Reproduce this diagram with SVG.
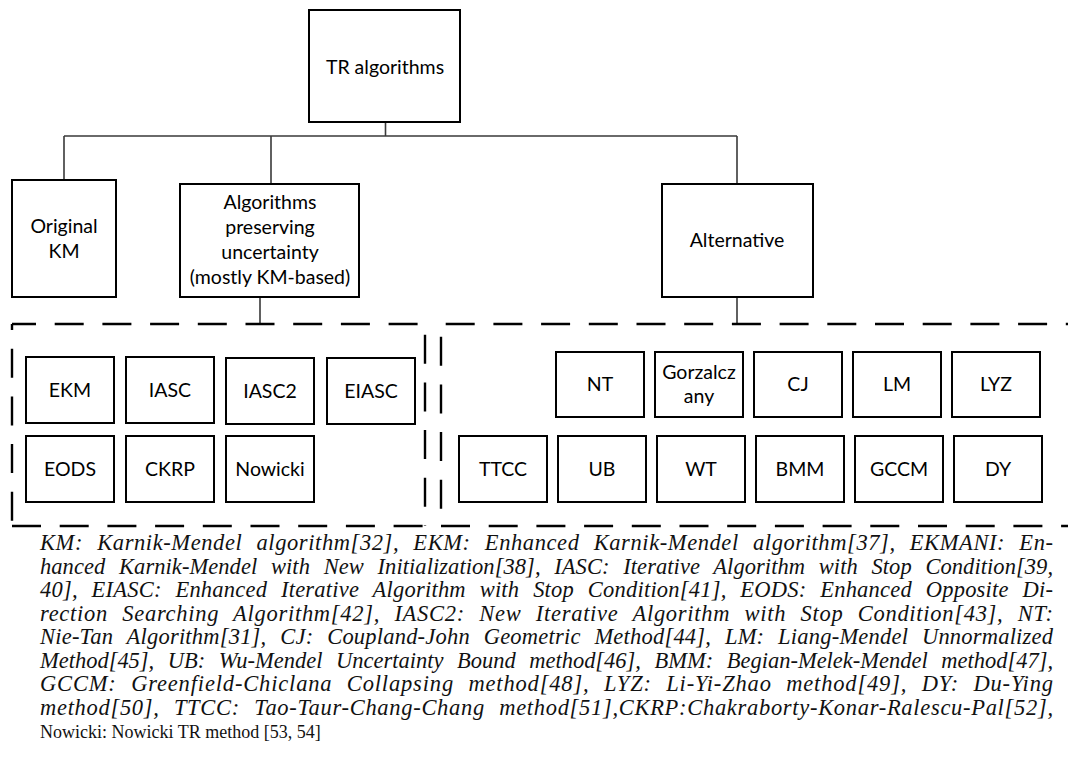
<svg xmlns="http://www.w3.org/2000/svg" width="1068" height="759" viewBox="0 0 1068 759">
<style>
.box{fill:#fff;stroke:#000;stroke-width:2}
.lbl{font-family:Lato,"Open Sans",sans-serif;font-size:19.5px;fill:#000;text-anchor:middle}
.con{fill:none;stroke:#3a3a3a;stroke-width:1.6}
.dash{fill:none;stroke:#000;stroke-width:2.4;stroke-dasharray:29 18.7}
.cap{font-family:"Liberation Serif",serif;font-style:italic;font-size:22.5px;word-spacing:8px;fill:#111}
.cap2{font-family:"Liberation Serif",serif;font-size:18px;fill:#111}
</style>
<rect width="1068" height="759" fill="#fff"/>
<g id="connectors">
<path class="con" d="M385.5,122V136M64,136H737M64,136V180M271,136V184M737,136V184M260,297V324M737,297V324"/>
</g>
<g id="groups">
<path class="dash" d="M12,324H425" stroke-dashoffset="5"/>
<path class="dash" d="M12,324V526" stroke-dashoffset="23"/>
<path class="dash" d="M12,526H425"/>
<path class="dash" d="M425,324V526" stroke-dashoffset="37"/>
<path class="dash" d="M441,324H1080" stroke-dashoffset="43"/>
<path class="dash" d="M441,324V526" stroke-dashoffset="35"/>
<path class="dash" d="M441,526H1080"/>
</g>
<g id="tr"><rect class="box" x="309" y="10" width="151" height="112"/><text class="lbl" x="385" y="74">TR algorithms</text></g>
<g id="original"><rect class="box" x="12" y="180" width="104" height="117"/><text class="lbl" x="64" y="233">Original</text><text class="lbl" x="64" y="258">KM</text></g>
<g id="preserving"><rect class="box" x="180" y="184" width="179" height="113"/><text class="lbl" x="270" y="209">Algorithms</text><text class="lbl" x="270" y="234">preserving</text><text class="lbl" x="270" y="259">uncertainty</text><text class="lbl" x="270" y="284">(mostly KM-based)</text></g>
<g id="alternative"><rect class="box" x="662" y="184" width="151" height="113"/><text class="lbl" x="737" y="247">Alternative</text></g>
<g id="ekm"><rect class="box" x="26" y="357" width="88" height="66"/><text class="lbl" x="70" y="397">EKM</text></g>
<g id="iasc"><rect class="box" x="126" y="357" width="88" height="66"/><text class="lbl" x="170" y="397">IASC</text></g>
<g id="iasc2"><rect class="box" x="226" y="358" width="88" height="66"/><text class="lbl" x="270" y="398">IASC2</text></g>
<g id="eiasc"><rect class="box" x="327" y="358" width="88" height="66"/><text class="lbl" x="371" y="398">EIASC</text></g>
<g id="eods"><rect class="box" x="26" y="436" width="88" height="66"/><text class="lbl" x="70" y="476">EODS</text></g>
<g id="ckrp"><rect class="box" x="126" y="436" width="88" height="66"/><text class="lbl" x="170" y="476">CKRP</text></g>
<g id="nowicki"><rect class="box" x="226" y="436" width="88" height="66"/><text class="lbl" x="270" y="476">Nowicki</text></g>
<g id="nt"><rect class="box" x="556" y="352" width="88" height="65"/><text class="lbl" x="600" y="391">NT</text></g>
<g id="gorzalczany"><rect class="box" x="655" y="352" width="88" height="65"/><text class="lbl" x="699" y="379">Gorzalcz</text><text class="lbl" x="699" y="403">any</text></g>
<g id="cj"><rect class="box" x="754" y="352" width="88" height="65"/><text class="lbl" x="798" y="391">CJ</text></g>
<g id="lm"><rect class="box" x="853" y="352" width="88" height="65"/><text class="lbl" x="897" y="391">LM</text></g>
<g id="lyz"><rect class="box" x="952" y="352" width="88" height="65"/><text class="lbl" x="996" y="391">LYZ</text></g>
<g id="ttcc"><rect class="box" x="459" y="436" width="88" height="66"/><text class="lbl" x="503" y="476">TTCC</text></g>
<g id="ub"><rect class="box" x="558" y="436" width="88" height="66"/><text class="lbl" x="602" y="476">UB</text></g>
<g id="wt"><rect class="box" x="657" y="436" width="88" height="66"/><text class="lbl" x="701" y="476">WT</text></g>
<g id="bmm"><rect class="box" x="756" y="436" width="88" height="66"/><text class="lbl" x="800" y="476">BMM</text></g>
<g id="gccm"><rect class="box" x="855" y="436" width="88" height="66"/><text class="lbl" x="899" y="476">GCCM</text></g>
<g id="dy"><rect class="box" x="954" y="436" width="88" height="66"/><text class="lbl" x="998" y="476">DY</text></g>
<g id="caption">
<text class="cap" x="40" y="550" textLength="1013" lengthAdjust="spacing">KM: Karnik-Mendel algorithm[32], EKM: Enhanced Karnik-Mendel algorithm[37], EKMANI: En-</text>
<text class="cap" x="40" y="573.5" textLength="1013" lengthAdjust="spacing">hanced Karnik-Mendel with New Initialization[38], IASC: Iterative Algorithm with Stop Condition[39,</text>
<text class="cap" x="40" y="597" textLength="1013" lengthAdjust="spacing">40], EIASC: Enhanced Iterative Algorithm with Stop Condition[41], EODS: Enhanced Opposite Di-</text>
<text class="cap" x="40" y="620.5" textLength="1013" lengthAdjust="spacing">rection Searching Algorithm[42], IASC2: New Iterative Algorithm with Stop Condition[43], NT:</text>
<text class="cap" x="40" y="644" textLength="1013" lengthAdjust="spacing">Nie-Tan Algorithm[31], CJ: Coupland-John Geometric Method[44], LM: Liang-Mendel Unnormalized</text>
<text class="cap" x="40" y="667.5" textLength="1013" lengthAdjust="spacing">Method[45], UB: Wu-Mendel Uncertainty Bound method[46], BMM: Begian-Melek-Mendel method[47],</text>
<text class="cap" x="40" y="691" textLength="1013" lengthAdjust="spacing">GCCM: Greenfield-Chiclana Collapsing method[48], LYZ: Li-Yi-Zhao method[49], DY: Du-Ying</text>
<text class="cap" x="40" y="714.5" textLength="1013" lengthAdjust="spacing">method[50], TTCC: Tao-Taur-Chang-Chang method[51],CKRP:Chakraborty-Konar-Ralescu-Pal[52],</text>
<text class="cap2" x="40" y="738">Nowicki: Nowicki TR method [53, 54]</text>
</g>
</svg>
